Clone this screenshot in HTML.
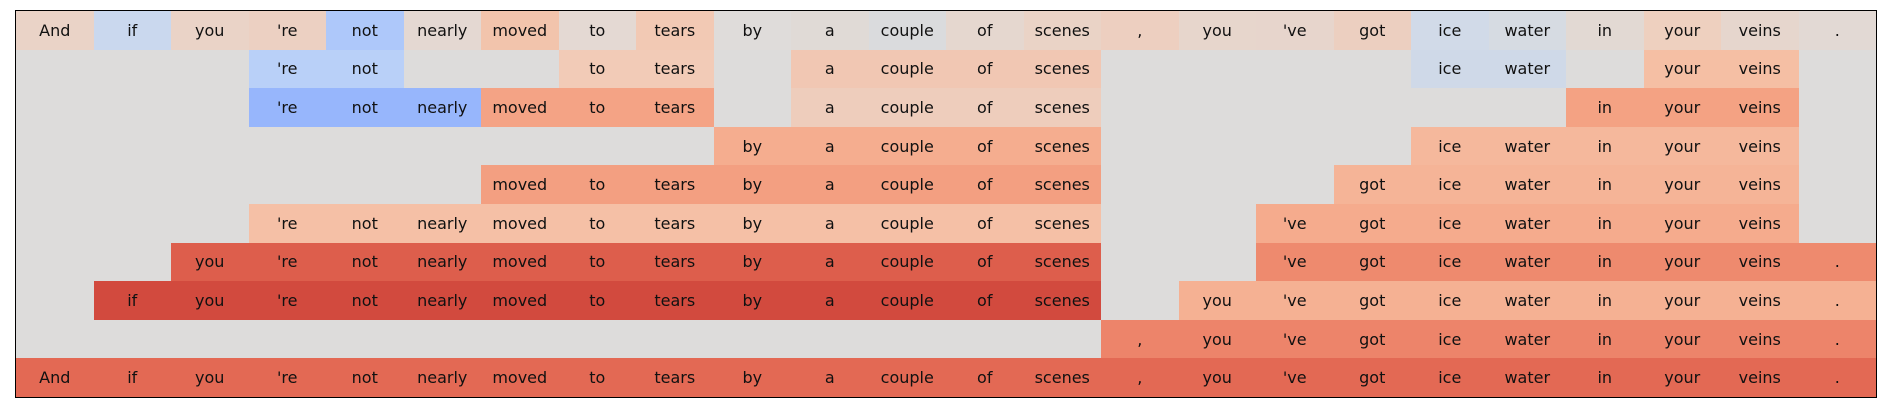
<!DOCTYPE html>
<html><head><meta charset="utf-8"><style>
body{margin:0;background:#fff;width:1884px;height:412px;overflow:hidden}
.f{position:absolute;left:15px;top:10px;width:1860px;height:386px;border:1px solid #000;background:#dddcdb;display:grid;grid-template-columns:repeat(24,1fr);grid-template-rows:repeat(10,1fr)}
.f div{display:flex;align-items:center;justify-content:center;font-family:"DejaVu Sans","Liberation Sans",sans-serif;font-size:16px;color:#111}
</style></head><body><div class="f">
<div style="background:#ead3c7">And</div><div style="background:#cad8ee">if</div><div style="background:#ead3c7">you</div><div style="background:#ecd0c2">'re</div><div style="background:#aec8fa">not</div><div style="background:#e4d8d2">nearly</div><div style="background:#f2c4ac">moved</div><div style="background:#e4d9d3">to</div><div style="background:#f2c9b4">tears</div><div style="background:#dfdcda">by</div><div style="background:#e0dad6">a</div><div style="background:#dadbdd">couple</div><div style="background:#e5d7cf">of</div><div style="background:#ead3c6">scenes</div><div style="background:#edcfc0">,</div><div style="background:#e7d6cc">you</div><div style="background:#e7d5cc">'ve</div><div style="background:#eccfc0">got</div><div style="background:#d1dae8">ice</div><div style="background:#d6dbe2">water</div><div style="background:#e2d9d3">in</div><div style="background:#eed0bf">your</div><div style="background:#e6d6cd">veins</div><div style="background:#e2d9d4">.</div>
<div></div><div></div><div></div><div style="background:#b9d0f8">'re</div><div style="background:#b9d0f8">not</div><div></div><div></div><div style="background:#f2cbb7">to</div><div style="background:#f2cbb7">tears</div><div></div><div style="background:#f1c7b3">a</div><div style="background:#f1c7b3">couple</div><div style="background:#f1c7b3">of</div><div style="background:#f1c7b3">scenes</div><div></div><div></div><div></div><div></div><div style="background:#cfd9e8">ice</div><div style="background:#cfd9e8">water</div><div></div><div style="background:#f5bfa4">your</div><div style="background:#f5bfa4">veins</div><div></div>
<div></div><div></div><div></div><div style="background:#97b6fc">'re</div><div style="background:#97b6fc">not</div><div style="background:#97b6fc">nearly</div><div style="background:#f4a385">moved</div><div style="background:#f4a385">to</div><div style="background:#f4a385">tears</div><div></div><div style="background:#eecdbc">a</div><div style="background:#eecdbc">couple</div><div style="background:#eecdbc">of</div><div style="background:#eecdbc">scenes</div><div></div><div></div><div></div><div></div><div></div><div></div><div style="background:#f4a283">in</div><div style="background:#f4a283">your</div><div style="background:#f4a283">veins</div><div></div>
<div></div><div></div><div></div><div></div><div></div><div></div><div></div><div></div><div></div><div style="background:#f5ad8f">by</div><div style="background:#f5ad8f">a</div><div style="background:#f5ad8f">couple</div><div style="background:#f5ad8f">of</div><div style="background:#f5ad8f">scenes</div><div></div><div></div><div></div><div></div><div style="background:#f5b89c">ice</div><div style="background:#f5b89c">water</div><div style="background:#f5b89c">in</div><div style="background:#f5b89c">your</div><div style="background:#f5b89c">veins</div><div></div>
<div></div><div></div><div></div><div></div><div></div><div></div><div style="background:#f39f81">moved</div><div style="background:#f39f81">to</div><div style="background:#f39f81">tears</div><div style="background:#f39f81">by</div><div style="background:#f39f81">a</div><div style="background:#f39f81">couple</div><div style="background:#f39f81">of</div><div style="background:#f39f81">scenes</div><div></div><div></div><div></div><div style="background:#f5b497">got</div><div style="background:#f5b497">ice</div><div style="background:#f5b497">water</div><div style="background:#f5b497">in</div><div style="background:#f5b497">your</div><div style="background:#f5b497">veins</div><div></div>
<div></div><div></div><div></div><div style="background:#f5c0a6">'re</div><div style="background:#f5c0a6">not</div><div style="background:#f5c0a6">nearly</div><div style="background:#f5c0a6">moved</div><div style="background:#f5c0a6">to</div><div style="background:#f5c0a6">tears</div><div style="background:#f5c0a6">by</div><div style="background:#f5c0a6">a</div><div style="background:#f5c0a6">couple</div><div style="background:#f5c0a6">of</div><div style="background:#f5c0a6">scenes</div><div></div><div></div><div style="background:#f5ab8d">'ve</div><div style="background:#f5ab8d">got</div><div style="background:#f5ab8d">ice</div><div style="background:#f5ab8d">water</div><div style="background:#f5ab8d">in</div><div style="background:#f5ab8d">your</div><div style="background:#f5ab8d">veins</div><div></div>
<div></div><div></div><div style="background:#dd5e4c">you</div><div style="background:#dd5e4c">'re</div><div style="background:#dd5e4c">not</div><div style="background:#dd5e4c">nearly</div><div style="background:#dd5e4c">moved</div><div style="background:#dd5e4c">to</div><div style="background:#dd5e4c">tears</div><div style="background:#dd5e4c">by</div><div style="background:#dd5e4c">a</div><div style="background:#dd5e4c">couple</div><div style="background:#dd5e4c">of</div><div style="background:#dd5e4c">scenes</div><div></div><div></div><div style="background:#ee8a6e">'ve</div><div style="background:#ee8a6e">got</div><div style="background:#ee8a6e">ice</div><div style="background:#ee8a6e">water</div><div style="background:#ee8a6e">in</div><div style="background:#ee8a6e">your</div><div style="background:#ee8a6e">veins</div><div style="background:#ee8a6e">.</div>
<div></div><div style="background:#d24a3e">if</div><div style="background:#d24a3e">you</div><div style="background:#d24a3e">'re</div><div style="background:#d24a3e">not</div><div style="background:#d24a3e">nearly</div><div style="background:#d24a3e">moved</div><div style="background:#d24a3e">to</div><div style="background:#d24a3e">tears</div><div style="background:#d24a3e">by</div><div style="background:#d24a3e">a</div><div style="background:#d24a3e">couple</div><div style="background:#d24a3e">of</div><div style="background:#d24a3e">scenes</div><div></div><div style="background:#f5b193">you</div><div style="background:#f5b193">'ve</div><div style="background:#f5b193">got</div><div style="background:#f5b193">ice</div><div style="background:#f5b193">water</div><div style="background:#f5b193">in</div><div style="background:#f5b193">your</div><div style="background:#f5b193">veins</div><div style="background:#f5b193">.</div>
<div></div><div></div><div></div><div></div><div></div><div></div><div></div><div></div><div></div><div></div><div></div><div></div><div></div><div></div><div style="background:#ed846a">,</div><div style="background:#ed846a">you</div><div style="background:#ed846a">'ve</div><div style="background:#ed846a">got</div><div style="background:#ed846a">ice</div><div style="background:#ed846a">water</div><div style="background:#ed846a">in</div><div style="background:#ed846a">your</div><div style="background:#ed846a">veins</div><div style="background:#ed846a">.</div>
<div style="background:#e36954">And</div><div style="background:#e36954">if</div><div style="background:#e36954">you</div><div style="background:#e36954">'re</div><div style="background:#e36954">not</div><div style="background:#e36954">nearly</div><div style="background:#e36954">moved</div><div style="background:#e36954">to</div><div style="background:#e36954">tears</div><div style="background:#e36954">by</div><div style="background:#e36954">a</div><div style="background:#e36954">couple</div><div style="background:#e36954">of</div><div style="background:#e36954">scenes</div><div style="background:#e36954">,</div><div style="background:#e36954">you</div><div style="background:#e36954">'ve</div><div style="background:#e36954">got</div><div style="background:#e36954">ice</div><div style="background:#e36954">water</div><div style="background:#e36954">in</div><div style="background:#e36954">your</div><div style="background:#e36954">veins</div><div style="background:#e36954">.</div>
</div></body></html>
